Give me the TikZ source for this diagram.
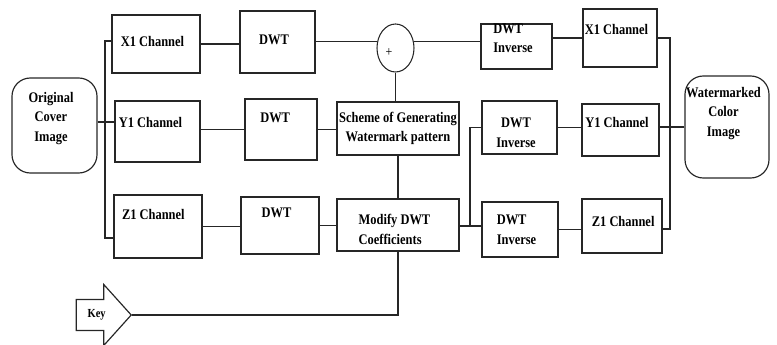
\documentclass[tikz,border=0pt]{standalone}
\usepackage{fontspec}
\setmainfont{Liberation Serif}[FakeStretch=0.85]
\usetikzlibrary{shapes.geometric,shapes.arrows}
\begin{document}
\begin{tikzpicture}[x=0.03cm, y=-0.03cm,
        box/.style={draw=black!85, line width=1pt, rectangle, inner sep=0pt},
        rbox/.style={box, rounded corners=0.55cm},
        txt/.style={font=\fontsize{12.5}{16.8}\selectfont\bfseries, align=center, inner sep=0pt, xshift=-3pt},
        wire/.style={draw=black!85, line width=0.9pt}]
    \useasboundingbox (0,0) rectangle (777,345);
    \node[rbox, minimum width=2.55cm, minimum height=2.85cm, label={[txt,yshift=6pt]center:Original\\Cover\\Image}] (orig) at (54.5,125.5) {};
    \node[box, minimum width=2.64cm, minimum height=1.74cm, label={[txt,yshift=2.5pt]center:X1 Channel}] (xin) at (156,44) {};
    \node[box, minimum width=2.55cm, minimum height=1.83cm, label={[txt,yshift=8pt,xshift=-3pt]center:Y1 Channel}] (yin) at (157.5,131.5) {};
    \node[box, minimum width=2.64cm, minimum height=1.89cm, label={[txt,yshift=10pt,xshift=-1pt]center:Z1 Channel}] (zin) at (158,226.5) {};
    \node[box, minimum width=2.25cm, minimum height=1.86cm, label={[txt,yshift=2pt]center:DWT}] (dwtx) at (277.5,42) {};
    \node[box, minimum width=2.16cm, minimum height=1.83cm, label={[txt,yshift=10pt,xshift=-2pt]center:DWT}] (dwty) at (281,129.5) {};
    \node[box, minimum width=2.34cm, minimum height=1.71cm, label={[txt,yshift=10.5pt]center:DWT}] (dwtz) at (280,225.5) {};
    \node[ellipse, draw=black!85, line width=0.9pt, minimum width=1.11cm, minimum height=1.44cm, inner sep=0pt, label={[xshift=-5.5pt,yshift=-4pt,font=\large]center:+}] (plus) at (395.5,48) {};
    \node[box, minimum width=3.66cm, minimum height=1.59cm, label={[txt,xshift=3pt]center:Scheme of Generating\\Watermark pattern}] (scheme) at (398,128.5) {};
    \node[box, minimum width=3.66cm, minimum height=1.56cm, label={[txt,align=left,yshift=-3.5pt]center:Modify DWT\\Coefficients}] (modify) at (398,225) {};
    \node[box, minimum width=2.13cm, minimum height=1.35cm, label={[txt,align=left,yshift=7pt]center:DWT\\Inverse}] (invx) at (516.5,46.5) {};
    \node[box, minimum width=2.25cm, minimum height=1.59cm, label={[txt,yshift=-4.5pt]center:DWT\\Inverse}] (invy) at (519.5,127.5) {};
    \node[box, minimum width=2.28cm, minimum height=1.65cm, label={[txt,align=left]center:DWT\\Inverse}] (invz) at (520,229.5) {};
    \node[box, minimum width=2.22cm, minimum height=1.74cm, label={[txt,yshift=7pt]center:X1 Channel}] (xout) at (620,38) {};
    \node[box, minimum width=2.31cm, minimum height=1.56cm, label={[txt,yshift=6pt]center:Y1 Channel}] (yout) at (620.5,130) {};
    \node[box, minimum width=2.4cm, minimum height=1.62cm, label={[txt,yshift=3.5pt,xshift=4pt]center:Z1 Channel}] (zout) at (622,226) {};
    \node[rbox, minimum width=2.52cm, minimum height=3.06cm, label={[txt,yshift=11.5pt]center:Watermarked\\Color\\Image}] (wm) at (727,127) {};
    \node[box, single arrow, single arrow head extend=0.45cm, single arrow tip angle=96, minimum height=1.65cm, inner xsep=4pt, inner ysep=7.8pt, text height=7.5pt, text depth=2.5pt, anchor=tip, font=\fontsize{10.5}{12}\selectfont\bfseries] (key) at (132,315) {Key};

    \coordinate (bustop) at (105,41);
    \coordinate (busmid) at (105,122);
    \coordinate (busbot) at (105,238);
    \coordinate (rbus) at (670,229);
    \coordinate (split) at (470,226);

    \draw[wire] (orig.east |- busmid) -- (yin.west |- busmid);
    \draw[wire] (xin.west |- bustop) -- (bustop) -- (busbot) -- (zin.west |- busbot);
    \draw[wire] (xin.east) -- (xin.east -| dwtx.west);
    \draw[wire] (dwty.west) -- (dwty.west -| yin.east);
    \draw[wire] (zin.east) -- (zin.east -| dwtz.west);
    \draw[wire] (plus.160) -- (plus.160 -| dwtx.east);
    \draw[wire] (plus.20) -- (plus.20 -| invx.west);
    \draw[wire] (dwty.east) -- (dwty.east -| scheme.west);
    \draw[wire] (dwtz.east) -- (dwtz.east -| modify.west);
    \draw[wire] (plus.south) -- (plus.south |- scheme.north);
    \draw[wire] (scheme.south) -- (modify.north);
    \draw[wire] (modify.east |- split) -- (split) |- (invy.west);
    \draw[wire] (split) -- (invz.west |- split);
    \draw[wire] (xout.west) -- (xout.west -| invx.east);
    \draw[wire] (invy.east) -- (invy.east -| yout.west);
    \draw[wire] (invz.east) -- (invz.east -| zout.west);
    \draw[wire] (xout.east) -| (rbus) -- (zout.east |- rbus);
    \draw[wire] (wm.west) -- (wm.west -| yout.east);
    \draw[wire] (key.tip) -| (modify.south);
\end{tikzpicture}
\end{document}
